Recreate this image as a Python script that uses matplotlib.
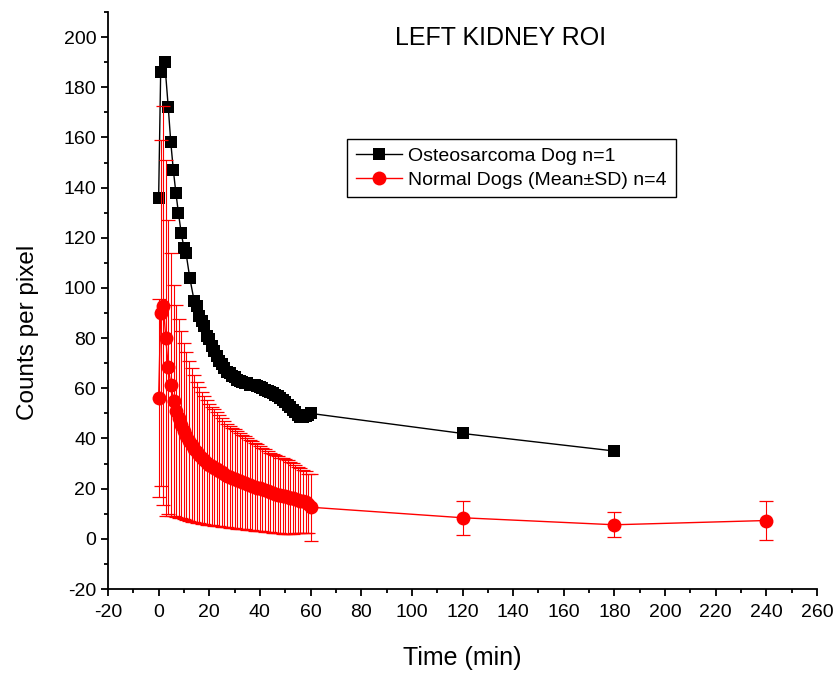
import matplotlib
matplotlib.use("Agg")
import matplotlib.pyplot as plt
from matplotlib.lines import Line2D

plt.rcParams['font.family'] = ['Liberation Sans', 'DejaVu Sans']
plt.rcParams['axes.unicode_minus'] = False

# Osteosarcoma dog (n=1)
ost_time = [0, 0.8, 2.4, 3.8, 4.8, 5.8, 6.8, 7.8, 8.9, 10.0, 10.8, 12.3,
            14, 15, 16, 17, 18, 19, 20, 21, 22, 23, 24, 25, 26, 27, 28, 29,
            30, 31, 32, 33, 34, 35, 36, 37, 38, 39, 40, 41, 42, 43, 44, 45,
            46, 47, 48, 49, 50, 51, 52, 53, 54, 55, 56, 57, 58, 59, 60,
            120, 180]
ost_counts = [136, 186, 190, 172, 158, 147, 138, 130, 122, 116, 114, 104,
              95, 93, 89, 87, 85, 81, 79.5, 77, 75, 73, 71, 69.5, 68, 66.5, 66, 65,
              64.5, 63.5, 63, 62.5, 62, 62, 61.5, 61.5, 61.5, 61, 60.5, 60, 59.5, 59, 58.5, 58,
              57.5, 57, 56, 55.5, 54.5, 53.5, 52.5, 51.5, 50.5, 49.5, 48.5, 48.5, 49, 49.5, 50,
              42, 35]

# Normal dogs (mean +- SD, n=4)
normal_time = [0, 0.8, 1.9, 2.8, 3.8, 4.8,
               6, 7, 8, 9, 10, 11, 12, 13, 14, 15, 16, 17, 18, 19, 20,
               21, 22, 23, 24, 25, 26, 27, 28, 29, 30, 31, 32, 33, 34, 35,
               36, 37, 38, 39, 40, 41, 42, 43, 44, 45, 46, 47, 48, 49, 50,
               51, 52, 53, 54, 55, 56, 57, 58, 59, 60,
               120, 180, 240]
normal_mean = [56, 90, 93, 80, 68.5, 61.5,
               55, 51, 48, 45.5, 43, 41, 39, 37.5, 36, 34.5, 33.3, 32.3, 31.3, 30.4, 29.6,
               29, 28.4, 27.8, 27.2, 26.5, 25.8, 25.2, 24.7, 24.2, 23.9, 23.5, 23.1, 22.7, 22.3, 21.9,
               21.5, 21.1, 20.7, 20.4, 20.1, 19.7, 19.3, 18.9, 18.5, 18.2, 17.9, 17.6, 17.3, 17.1, 16.9,
               16.7, 16.4, 16.2, 15.9, 15.5, 15.2, 14.9, 14.6, 14.0, 12.6,
               8.4, 5.6, 7.3]
normal_sd = [39.5, 69, 79.5, 71, 58.5, 52.5,
             46, 42.2, 39.5, 37.3, 35.2, 33.6, 32, 30.7, 29.4, 28.1, 27.1, 26.3, 25.5, 24.8, 24.1,
             23.6, 23.2, 22.7, 22.2, 21.6, 21, 20.6, 20.2, 19.8, 19.7, 19.4, 19.1, 18.8, 18.5, 18.2,
             18, 17.7, 17.4, 17.2, 17, 16.7, 16.4, 16.1, 15.9, 15.7, 15.5, 15.3, 15.1, 15, 14.9,
             14.7, 14.4, 14.1, 13.7, 13.3, 12.9, 12.6, 12.3, 11.8, 13.4,
             6.8, 4.9, 7.9]

fig = plt.figure(figsize=(8.35, 6.75), dpi=100)
ax = fig.add_axes([108 / 835, 86 / 675, 709 / 835, 577 / 675])

ax.plot(ost_time, ost_counts, color='black', linewidth=1, marker='s',
        markersize=9, markeredgewidth=0, zorder=3)

# error bars first, then line + circles on top
ax.errorbar(normal_time, normal_mean, yerr=normal_sd, fmt='none', ecolor='red',
            elinewidth=0.8, capsize=5, capthick=0.9, zorder=4)
ax.plot(normal_time, normal_mean, color='red', linewidth=1, marker='o',
        markersize=10, markeredgewidth=0, zorder=5)

ax.set_xlim(-20, 260)
ax.set_ylim(-20, 210)
ax.set_xticks(range(-20, 261, 20))
ax.set_xticks(range(-10, 261, 10), minor=True)
ax.set_yticks(range(-20, 201, 20))
ax.set_yticks(range(-10, 211, 10), minor=True)

ax.spines['top'].set_visible(False)
ax.spines['right'].set_visible(False)
ax.spines['left'].set_linewidth(1.3)
ax.spines['bottom'].set_linewidth(1.3)
ax.tick_params(which='major', direction='out', length=5, width=1.3, labelsize=14)
ax.tick_params(axis='x', which='major', pad=6)
ax.tick_params(which='minor', direction='out', length=3, width=1.3)

ax.set_xlabel('Time (min)', fontsize=18, labelpad=18)
ax.set_ylabel('Counts per pixel', fontsize=17.5)
ax.yaxis.set_label_coords(-0.097, 0.445)
ax.text(0.553, 0.955, 'LEFT KIDNEY ROI', transform=ax.transAxes,
        ha='center', va='center', fontsize=18)

handles = [
    Line2D([], [], color='black', linewidth=1, marker='s', markersize=9,
           markeredgewidth=0),
    Line2D([], [], color='red', linewidth=1, marker='o', markersize=10,
           markeredgewidth=0),
]
leg = ax.legend(handles, ['Osteosarcoma Dog n=1', 'Normal Dogs (Mean\u00b1SD) n=4'],
                loc='upper left', bbox_to_anchor=(0.337, 0.78), fontsize=14,
                frameon=True, fancybox=False, edgecolor='black', framealpha=1,
                handlelength=2.4, handletextpad=0.3, borderpad=0.45,
                labelspacing=0.3, numpoints=1, borderaxespad=0)
leg.get_frame().set_linewidth(1)

fig.savefig('out.png', dpi=100)
